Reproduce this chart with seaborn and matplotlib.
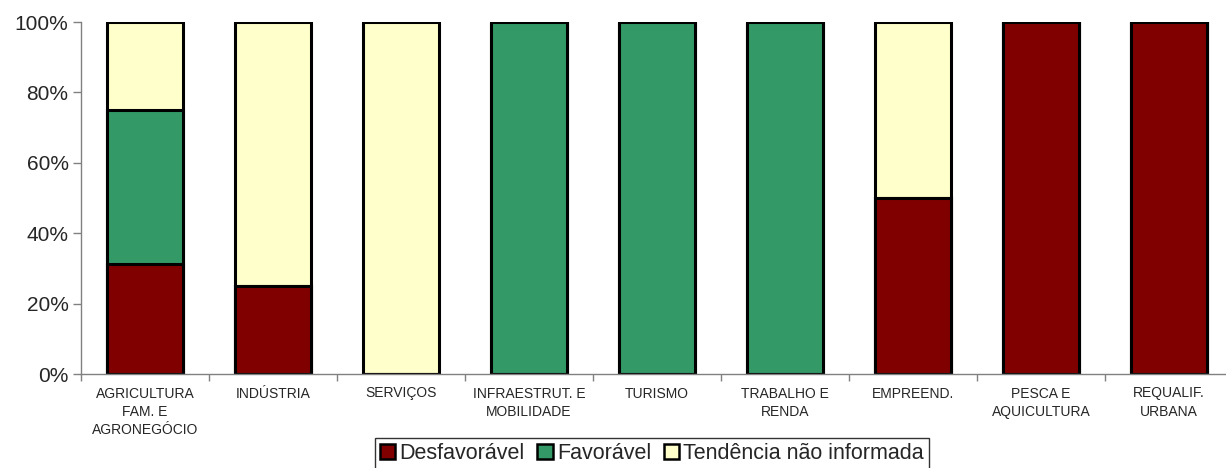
import matplotlib
matplotlib.use('Agg')
import matplotlib.pyplot as plt
import matplotlib.ticker as mticker
from matplotlib.patches import Patch
import seaborn as sns
import pandas as pd
import numpy as np

sns.set_theme(style='white')
plt.rcParams['font.family'] = ['Liberation Sans', 'DejaVu Sans']

# data (percent of each sector)
categorias = ['AGRICULTURA\nFAM. E\nAGRONEGÓCIO', 'INDÚSTRIA', 'SERVIÇOS',
              'INFRAESTRUT. E\nMOBILIDADE', 'TURISMO', 'TRABALHO E\nRENDA',
              'EMPREEND.', 'PESCA E\nAQUICULTURA', 'REQUALIF.\nURBANA']
desfavoravel = [31.25, 25, 0, 0, 0, 0, 50, 100, 100]
favoravel = [43.75, 0, 0, 100, 100, 100, 0, 0, 0]
nao_informada = [25, 75, 100, 0, 0, 0, 50, 0, 0]
series = ['Desfavorável', 'Favorável', 'Tendência não informada']
cores = ['#800000', '#339966', '#FFFFCC']

df = pd.DataFrame({'categoria': categorias, 'desf': desfavoravel,
                   'fav': favoravel, 'nao': nao_informada})
df['nivel_desf'] = df['desf']
df['nivel_fav'] = df['desf'] + df['fav']
df['nivel_nao'] = df['nivel_fav'] + df['nao']

fig = plt.figure(figsize=(12.26, 4.68), dpi=100)
ax = fig.add_axes([81/1226, 94/468, 1152/1226, 352/468])

#stacked look: draw the cumulative levels from top to bottom
for col, cor in zip(['nivel_nao', 'nivel_fav', 'nivel_desf'], cores[::-1]):
    sns.barplot(data=df, x='categoria', y=col, color=cor, saturation=1,
                width=0.59, edgecolor='black', linewidth=2.2, ax=ax)

ax.set_ylim(0, 100)
ax.set_xlim(-0.5, 8.5)
ax.set_xlabel('')
ax.set_ylabel('')
ax.yaxis.set_major_locator(mticker.MultipleLocator(20))
ax.yaxis.set_major_formatter(mticker.FuncFormatter(lambda v, p: f'{v:.0f}%'))

# labels under the bars, ticks between them
ax.set_xticks(np.arange(-0.5, 9, 1))
ax.set_xticklabels([])
ax.set_xticks(np.arange(9), minor=True)
ax.set_xticklabels(categorias, minor=True, fontsize=10, linespacing=1.4)
ax.tick_params(axis='x', which='minor', length=0, pad=9)
ax.tick_params(axis='x', which='major', length=5, width=1, color='#808080', direction='out')
ax.tick_params(axis='y', length=6, width=1, color='#808080', direction='out', labelsize=15, pad=3)
ax.tick_params(bottom=True, left=True)

for s in ['top', 'right']:
    ax.spines[s].set_visible(False)
for s in ['left', 'bottom']:
    ax.spines[s].set_color('#808080')
    ax.spines[s].set_linewidth(1)

handles = [Patch(facecolor=c, edgecolor='black', linewidth=1.8) for c in cores]
leg = fig.legend(handles, series, loc='upper center', bbox_to_anchor=(652/1226, 1 - 438/468),
                 ncol=3, fontsize=15.5, frameon=True, fancybox=False, edgecolor='black',
                 handlelength=0.7, handleheight=0.7, handletextpad=0.2,
                 columnspacing=0.6, borderpad=0.25, borderaxespad=0)
leg.get_frame().set_linewidth(1)

fig.savefig('out.png', dpi=100)
